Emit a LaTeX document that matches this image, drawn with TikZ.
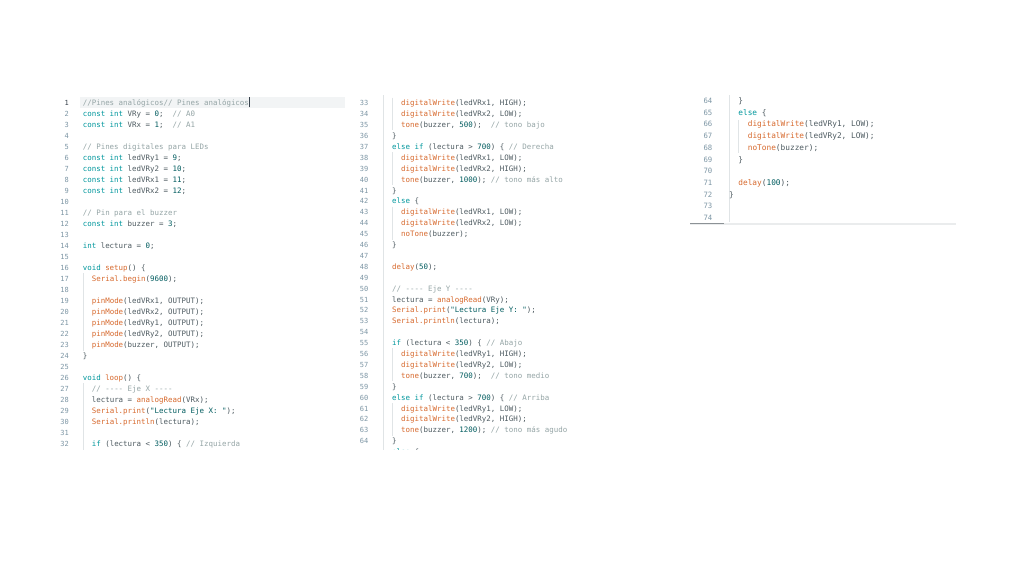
\documentclass[tikz,border=0pt]{standalone}
\usepackage{fontspec}
\setmonofont{DejaVu Sans Mono}
\definecolor{codetxt}{RGB}{78,91,97}
\definecolor{kwteal}{RGB}{0,151,157}
\definecolor{fnorange}{RGB}{215,105,45}
\definecolor{numteal}{RGB}{0,92,95}
\definecolor{cmtgrey}{RGB}{149,165,166}
\definecolor{lnumgrey}{RGB}{125,150,165}
\definecolor{lnumact}{RGB}{55,65,75}
\definecolor{guidegrey}{RGB}{224,228,230}
\definecolor{hlgrey}{RGB}{242,244,245}
\definecolor{barlight}{RGB}{234,236,237}
\definecolor{bardark}{RGB}{140,146,150}
\newcommand{\kwd}[1]{\textcolor{kwteal}{#1}}
\newcommand{\fnc}[1]{\textcolor{fnorange}{#1}}
\newcommand{\nmb}[1]{\textcolor{numteal}{#1}}
\newcommand{\cmt}[1]{\textcolor{cmtgrey}{#1}}
\newcommand{\codefont}{\ttfamily\fontsize{7.46}{9}\selectfont}
\newcommand{\codefontb}{\ttfamily\fontsize{7.8}{9}\selectfont}
\begin{document}
\begin{tikzpicture}[x=1pt,y=-1pt,
		code/.style={anchor=base west,inner sep=0pt,text=codetxt,font=\codefont},
		codeb/.style={code,font=\codefontb},
		lnum/.style={anchor=base east,inner sep=0pt,text=lnumgrey,font=\ttfamily\fontsize{7}{8}\selectfont},
		lnumb/.style={lnum,font=\ttfamily\fontsize{7.3}{8}\selectfont},
		guide/.style={draw=guidegrey,line width=0.7pt}]
	\fill[white] (0,0) rectangle (1024,576);
	\useasboundingbox (0,0) rectangle (1024,576);

	% first column
	\fill[hlgrey] (80,96.5) rectangle (345,107.5);
	\draw[guide] (82.9,273) -- (82.9,350.5);
	\draw[guide] (82.9,383) -- (82.9,450);
	\node[lnum,text=lnumact] (na1) at (69,105.5) {1};
	\foreach \n in {2,...,32}{
		\node[lnum] (na\n) at (69,{105.5+11*(\n-1)}) {\n};
	}
	\node[code] (a1) at (82.6,105.5) {\cmt{//Pines analógicos// Pines analógicos}};
	\draw[lnumact,line width=0.8pt] (a1.base east) ++(0.6,1.8) -- ++(0,-10.2);
	\node[code] (a2) at (82.6,116.5) {\kwd{const int} VRy = \nmb{0};~~\cmt{// A0}};
	\node[code] (a3) at (82.6,127.5) {\kwd{const int} VRx = \nmb{1};~~\cmt{// A1}};
	\node[code] (a5) at (82.6,149.5) {\cmt{// Pines digitales para LEDs}};
	\node[code] (a6) at (82.6,160.5) {\kwd{const int} ledVRy1 = \nmb{9};};
	\node[code] (a7) at (82.6,171.5) {\kwd{const int} ledVRy2 = \nmb{10};};
	\node[code] (a8) at (82.6,182.5) {\kwd{const int} ledVRx1 = \nmb{11};};
	\node[code] (a9) at (82.6,193.5) {\kwd{const int} ledVRx2 = \nmb{12};};
	\node[code] (a11) at (82.6,215.5) {\cmt{// Pin para el buzzer}};
	\node[code] (a12) at (82.6,226.5) {\kwd{const int} buzzer = \nmb{3};};
	\node[code] (a14) at (82.6,248.5) {\kwd{int} lectura = \nmb{0};};
	\node[code] (a16) at (82.6,270.5) {\kwd{void} \fnc{setup}() \{};
	\node[code] (a17) at (91.6,281.5) {\fnc{Serial.begin}(\nmb{9600});};
	\node[code] (a19) at (91.6,303.5) {\fnc{pinMode}(ledVRx1, OUTPUT);};
	\node[code] (a20) at (91.6,314.5) {\fnc{pinMode}(ledVRx2, OUTPUT);};
	\node[code] (a21) at (91.6,325.5) {\fnc{pinMode}(ledVRy1, OUTPUT);};
	\node[code] (a22) at (91.6,336.5) {\fnc{pinMode}(ledVRy2, OUTPUT);};
	\node[code] (a23) at (91.6,347.5) {\fnc{pinMode}(buzzer, OUTPUT);};
	\node[code] (a24) at (82.6,358.5) {\}};
	\node[code] (a26) at (82.6,380.5) {\kwd{void} \fnc{loop}() \{};
	\node[code] (a27) at (91.6,391.5) {\cmt{// ---- Eje X ----}};
	\node[code] (a28) at (91.6,402.5) {lectura = \fnc{analogRead}(VRx);};
	\node[code] (a29) at (91.6,413.5) {\fnc{Serial.print}(\nmb{"Lectura Eje X: "});};
	\node[code] (a30) at (91.6,424.5) {\fnc{Serial.println}(lectura);};
	\node[code] (a32) at (91.6,446.5) {\kwd{if} (lectura < \nmb{350}) \{ \cmt{// Izquierda}};

	% second column
	\draw[guide] (383.2,95) -- (383.2,450);
	\foreach \a/\b in {97.5/130, 152/184.5, 206.5/239.5, 348/381, 403/435.5}{
		\draw[guide] (392.2,\a) -- (392.2,\b);
	}
	\foreach \n in {33,...,64}{
		\node[lnum] (nb\n) at (368.5,{105.8+10.9*(\n-33)}) {\n};
	}
	\node[code] (b33) at (400.9,105.8) {\fnc{digitalWrite}(ledVRx1, HIGH);};
	\node[code] (b34) at (400.9,116.7) {\fnc{digitalWrite}(ledVRx2, LOW);};
	\node[code] (b35) at (400.9,127.6) {\fnc{tone}(buzzer, \nmb{500});~~\cmt{// tono bajo}};
	\node[code] (b36) at (391.9,138.5) {\}};
	\node[code] (b37) at (391.9,149.4) {\kwd{else if} (lectura > \nmb{700}) \{ \cmt{// Derecha}};
	\node[code] (b38) at (400.9,160.3) {\fnc{digitalWrite}(ledVRx1, LOW);};
	\node[code] (b39) at (400.9,171.2) {\fnc{digitalWrite}(ledVRx2, HIGH);};
	\node[code] (b40) at (400.9,182.1) {\fnc{tone}(buzzer, \nmb{1000}); \cmt{// tono más alto}};
	\node[code] (b41) at (391.9,193.0) {\}};
	\node[code] (b42) at (391.9,203.9) {\kwd{else} \{};
	\node[code] (b43) at (400.9,214.8) {\fnc{digitalWrite}(ledVRx1, LOW);};
	\node[code] (b44) at (400.9,225.7) {\fnc{digitalWrite}(ledVRx2, LOW);};
	\node[code] (b45) at (400.9,236.6) {\fnc{noTone}(buzzer);};
	\node[code] (b46) at (391.9,247.5) {\}};
	\node[code] (b48) at (391.9,269.3) {\fnc{delay}(\nmb{50});};
	\node[code] (b50) at (391.9,291.1) {\cmt{// ---- Eje Y ----}};
	\node[code] (b51) at (391.9,302.0) {lectura = \fnc{analogRead}(VRy);};
	\node[code] (b52) at (391.9,312.9) {\fnc{Serial.print}(\nmb{"Lectura Eje Y: "});};
	\node[code] (b53) at (391.9,323.8) {\fnc{Serial.println}(lectura);};
	\node[code] (b55) at (391.9,345.6) {\kwd{if} (lectura < \nmb{350}) \{ \cmt{// Abajo}};
	\node[code] (b56) at (400.9,356.5) {\fnc{digitalWrite}(ledVRy1, HIGH);};
	\node[code] (b57) at (400.9,367.4) {\fnc{digitalWrite}(ledVRy2, LOW);};
	\node[code] (b58) at (400.9,378.3) {\fnc{tone}(buzzer, \nmb{700});~~\cmt{// tono medio}};
	\node[code] (b59) at (391.9,389.2) {\}};
	\node[code] (b60) at (391.9,400.1) {\kwd{else if} (lectura > \nmb{700}) \{ \cmt{// Arriba}};
	\node[code] (b61) at (400.9,411.0) {\fnc{digitalWrite}(ledVRy1, LOW);};
	\node[code] (b62) at (400.9,421.9) {\fnc{digitalWrite}(ledVRy2, HIGH);};
	\node[code] (b63) at (400.9,432.8) {\fnc{tone}(buzzer, \nmb{1200}); \cmt{// tono más agudo}};
	\node[code] (b64) at (391.9,443.7) {\}};
	\begin{scope}
		\clip (380,446) rectangle (700,449.5);
		\node[code] (b65) at (391.9,454.6) {\kwd{else} \{};
	\end{scope}

	% third column
	\draw[guide] (728.9,95) -- (728.9,222);
	\draw[guide] (738.5,120) -- (738.5,153);
	\foreach \n in {64,...,74}{
		\node[lnumb] (nc\n) at (712.5,{103.5+11.7*(\n-64)}) {\n};
	}
	\node[codeb] (c64) at (738.2,103.5) {\}};
	\node[codeb] (c65) at (738.2,115.2) {\kwd{else} \{};
	\node[codeb] (c66) at (747.6,126.9) {\fnc{digitalWrite}(ledVRy1, LOW);};
	\node[codeb] (c67) at (747.6,138.6) {\fnc{digitalWrite}(ledVRy2, LOW);};
	\node[codeb] (c68) at (747.6,150.3) {\fnc{noTone}(buzzer);};
	\node[codeb] (c69) at (738.2,162.0) {\}};
	\node[codeb] (c71) at (738.2,185.4) {\fnc{delay}(\nmb{100});};
	\node[codeb] (c72) at (728.8,197.1) {\}};
	\fill[barlight] (690,222.6) rectangle (956,225);
	\draw[bardark,line width=1.1pt] (690,223.3) -- (724,223.3);
\end{tikzpicture}
\end{document}
